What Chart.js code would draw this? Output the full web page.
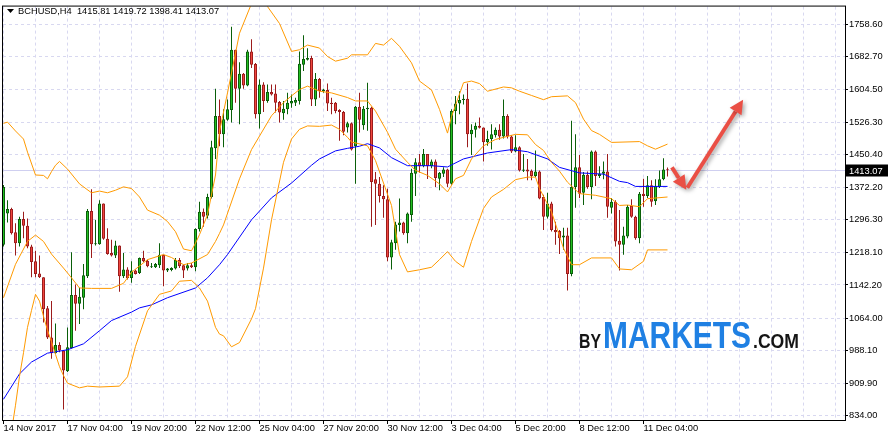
<!DOCTYPE html>
<html>
<head>
<meta charset="utf-8">
<script src="https://cdn.jsdelivr.net/npm/chart.js@4.4.1/dist/chart.umd.min.js"></script>
<style>
  html, body { margin: 0; padding: 0; background: #fff; }
  canvas { display: block; }
</style>
</head>
<body>
<canvas id="chart-bch" width="888" height="440"></canvas>
<script>
// BCHUSD H4 : candles + bandes de Bollinger + moyenne mobile

const symbol = "BCHUSD,H4";

// labels of the time axis (one every 16 candles)
const xLabels = ["14 Nov 2017", "17 Nov 04:00", "19 Nov 20:00", "22 Nov 12:00", "25 Nov 04:00",
  "27 Nov 20:00", "30 Nov 12:00", "3 Dec 04:00", "5 Dec 20:00", "8 Dec 12:00", "11 Dec 04:00"];

// price axis
const yTicks = [1758.60, 1682.70, 1604.50, 1526.30, 1450.40, 1372.20, 1296.30,
  1218.10, 1142.20, 1064.00, 988.10, 909.90, 834.00];

const opens = [
  1237.0, 1311.1, 1321.4, 1266.6, 1240.8, 1298.0, 1282.3, 1233.1, 1197.9, 1169.1,
  1160.4, 1087.1, 1018.2, 980.7, 1000.4, 987.0, 938.5, 993.4, 1118.3, 1097.9,
  1111.9, 1162.8, 1316.7, 1238.5, 1238.5, 1334.5, 1251.1, 1217.4, 1212.0, 1235.4,
  1162.8, 1178.5, 1158.8, 1176.1, 1170.5, 1205.7, 1199.6, 1183.9, 1183.9, 1188.5,
  1213.6, 1176.1, 1177.5, 1180.8, 1201.0, 1188.5, 1180.8, 1188.5, 1183.9, 1274.5,
  1315.1, 1305.7, 1350.2, 1465.0, 1541.6, 1498.5, 1532.3, 1555.7, 1697.7, 1605.6,
  1641.4, 1613.3, 1693.9, 1664.2, 1545.4, 1615.7, 1576.8, 1597.9, 1594.6, 1574.4,
  1547.7, 1557.1, 1571.2, 1572.8, 1576.8, 1662.5, 1674.3, 1678.2, 1580.5, 1629.0,
  1600.2, 1602.6, 1572.8, 1572.8, 1555.7, 1551.0, 1514.2, 1524.3, 1469.7, 1563.4,
  1519.6, 1557.1, 1561.1, 1391.7, 1381.4, 1352.6, 1344.8, 1207.3, 1240.8, 1283.9,
  1290.0, 1264.2, 1307.3, 1404.8, 1432.2, 1422.8, 1451.7, 1422.8, 1433.9, 1393.1,
  1404.8, 1415.1, 1381.4, 1553.4, 1571.2, 1579.1, 1582.2, 1498.5, 1508.8, 1518.2,
  1514.2, 1479.1, 1486.8, 1496.2, 1508.8, 1493.1, 1541.6, 1493.1, 1457.3, 1467.4,
  1411.8, 1415.1, 1411.8, 1399.4, 1410.4, 1350.2, 1303.4, 1334.5, 1272.2, 1269.8,
  1254.1, 1258.8, 1168.2, 1373.6, 1420.5, 1360.3, 1402.5, 1373.6, 1457.3, 1399.4,
  1404.8, 1410.4, 1324.4, 1338.5, 1246.4, 1237.0, 1256.5, 1329.1, 1303.4, 1252.5,
  1357.9, 1352.6, 1377.6, 1340.1, 1373.6, 1391.7, 1415.81
];
const highs = [
  1378.3, 1342.5, 1324.4, 1287.7, 1303.4, 1315.1, 1299.4, 1237.0, 1223.0, 1212.0,
  1160.4, 1092.5, 1104.2, 1051.0, 1006.5, 988.7, 1041.6, 1219.7, 1143.3, 1135.4,
  1191.6, 1321.4, 1368.3, 1295.6, 1342.5, 1334.5, 1275.9, 1248.8, 1246.4, 1235.4,
  1217.4, 1183.9, 1197.9, 1178.5, 1207.3, 1223.0, 1201.9, 1193.9, 1193.9, 1240.8,
  1213.6, 1182.2, 1183.9, 1205.7, 1205.7, 1190.2, 1193.9, 1193.9, 1275.9, 1338.5,
  1322.8, 1357.9, 1483.1, 1605.6, 1580.5, 1557.1, 1580.5, 1752.5, 1697.7, 1668.2,
  1643.1, 1697.7, 1722.8, 1666.5, 1627.4, 1621.3, 1615.7, 1615.7, 1615.7, 1576.8,
  1576.8, 1596.2, 1592.2, 1584.5, 1693.9, 1732.1, 1701.7, 1683.6, 1643.1, 1631.4,
  1605.6, 1618.0, 1584.5, 1574.4, 1557.1, 1553.4, 1527.6, 1525.9, 1565.1, 1596.2,
  1565.1, 1619.7, 1563.4, 1408.8, 1397.1, 1377.6, 1369.7, 1248.8, 1291.6, 1346.2,
  1291.6, 1313.4, 1416.5, 1441.6, 1451.7, 1463.4, 1451.7, 1438.5, 1438.5, 1408.8,
  1420.5, 1416.5, 1557.1, 1588.5, 1600.2, 1592.2, 1618.0, 1522.0, 1525.9, 1537.7,
  1514.2, 1506.5, 1522.0, 1514.2, 1522.0, 1580.5, 1545.4, 1496.2, 1496.2, 1469.7,
  1451.7, 1440.0, 1415.1, 1459.6, 1412.8, 1355.6, 1360.3, 1338.5, 1291.6, 1272.2,
  1277.6, 1277.6, 1529.9, 1498.5, 1449.3, 1408.8, 1410.4, 1459.6, 1459.6, 1422.8,
  1433.9, 1451.7, 1347.9, 1342.5, 1319.1, 1279.9, 1330.8, 1344.8, 1305.7, 1361.9,
  1393.1, 1399.4, 1389.3, 1391.7, 1412.8, 1441.6, 1419.72
];
const lows = [
  1233.1, 1290.0, 1261.2, 1212.0, 1233.1, 1252.5, 1229.1, 1160.4, 1160.4, 1158.8,
  1053.4, 1014.5, 967.6, 979.3, 983.1, 848.1, 936.2, 991.7, 1033.9, 1049.6,
  1084.8, 1158.8, 1205.7, 1235.4, 1237.0, 1248.8, 1213.6, 1209.6, 1205.7, 1126.0,
  1158.8, 1155.0, 1147.1, 1166.7, 1168.2, 1196.3, 1183.9, 1182.2, 1182.2, 1182.2,
  1139.3, 1172.8, 1174.5, 1178.5, 1182.2, 1158.8, 1176.1, 1182.2, 1174.5, 1268.2,
  1279.9, 1299.4, 1346.2, 1440.0, 1469.7, 1467.4, 1529.9, 1525.9, 1572.8, 1522.0,
  1605.6, 1611.9, 1654.8, 1535.3, 1511.9, 1551.0, 1572.8, 1589.9, 1549.4, 1525.9,
  1532.3, 1545.4, 1561.1, 1565.1, 1568.8, 1647.8, 1672.8, 1565.1, 1565.1, 1584.5,
  1596.2, 1553.4, 1545.4, 1547.7, 1483.1, 1496.2, 1502.5, 1459.6, 1381.4, 1502.5,
  1508.8, 1506.5, 1279.9, 1283.9, 1336.9, 1301.0, 1197.9, 1178.5, 1225.3, 1268.2,
  1260.5, 1240.8, 1291.6, 1352.6, 1407.1, 1420.5, 1392.4, 1418.2, 1373.6, 1365.9,
  1397.1, 1373.6, 1379.0, 1522.0, 1545.4, 1568.8, 1467.4, 1449.3, 1490.8, 1511.9,
  1433.9, 1471.3, 1462.0, 1490.8, 1485.4, 1488.5, 1488.5, 1454.0, 1455.6, 1410.4,
  1408.8, 1389.3, 1389.3, 1397.1, 1344.8, 1272.2, 1299.4, 1268.2, 1237.0, 1215.0,
  1225.3, 1129.3, 1162.8, 1324.4, 1347.9, 1330.8, 1369.7, 1344.8, 1376.0, 1394.7,
  1391.7, 1301.0, 1311.1, 1233.1, 1176.1, 1213.6, 1252.5, 1301.0, 1248.8, 1240.8,
  1326.8, 1347.9, 1326.8, 1330.8, 1371.3, 1389.3, 1398.41
];
const closes = [
  1373.6, 1321.4, 1264.2, 1240.8, 1298.0, 1282.3, 1233.1, 1196.3, 1168.2, 1160.4,
  1084.8, 1018.2, 980.7, 1000.4, 987.0, 940.2, 994.8, 1118.3, 1097.9, 1114.3,
  1165.1, 1316.7, 1238.5, 1240.8, 1334.5, 1251.1, 1215.0, 1212.0, 1235.4, 1162.8,
  1178.5, 1158.8, 1176.1, 1168.2, 1205.7, 1197.9, 1186.2, 1186.2, 1191.6, 1213.6,
  1176.1, 1180.8, 1182.2, 1201.0, 1186.2, 1176.1, 1188.5, 1183.9, 1274.5, 1315.1,
  1303.4, 1350.2, 1467.4, 1541.6, 1498.5, 1533.7, 1557.1, 1697.7, 1605.6, 1641.4,
  1613.3, 1693.9, 1662.5, 1545.4, 1615.7, 1576.8, 1597.9, 1592.2, 1572.8, 1549.4,
  1558.7, 1572.8, 1576.8, 1579.1, 1664.9, 1675.9, 1678.2, 1580.5, 1629.0, 1600.2,
  1604.0, 1571.2, 1569.8, 1553.4, 1551.0, 1504.2, 1524.3, 1462.0, 1563.4, 1532.3,
  1558.7, 1561.1, 1385.4, 1381.4, 1352.6, 1344.8, 1207.3, 1243.1, 1285.3, 1290.0,
  1264.2, 1311.1, 1407.1, 1432.2, 1422.8, 1451.7, 1422.8, 1433.9, 1394.7, 1407.1,
  1415.1, 1381.4, 1553.4, 1571.2, 1579.1, 1582.2, 1498.5, 1508.8, 1518.2, 1513.5,
  1479.1, 1486.8, 1498.5, 1508.8, 1493.1, 1541.6, 1493.1, 1457.3, 1467.4, 1412.8,
  1415.1, 1410.4, 1399.4, 1410.4, 1346.2, 1303.4, 1334.5, 1272.2, 1266.6, 1252.5,
  1258.8, 1168.2, 1373.6, 1420.5, 1357.9, 1402.5, 1373.6, 1457.3, 1399.4, 1404.8,
  1410.4, 1326.8, 1338.5, 1244.8, 1237.0, 1258.8, 1326.8, 1303.4, 1252.5, 1357.9,
  1352.6, 1377.6, 1338.5, 1376.0, 1391.7, 1415.1, 1413.07
];

// indicator lines, [candle index, price]
const upperBand = [[0,1524],[1,1527],[3,1506],[5,1487],[6,1456],[8,1402],[10,1401],[11,1393],[12,1410],[13,1425],
  [14,1434],[16,1416],[19,1381],[22,1360],[24,1364],[26,1360],[28,1366],[30,1374],[32,1370],[34,1350],
  [36,1319],[39,1307],[41,1292],[43,1268],[45,1227],[47,1223],[48,1241],[49,1261],[51,1308],[53,1402],
  [54,1505],[56,1596],[59,1737],[62,1807],[64,1830],[66,1800],[69,1760],[72,1694],[74,1698],[76,1709],
  [79,1702],[81,1682],[83,1671],[86,1678],[87,1686],[91,1686],[93,1713],[95,1709],[97,1725],[99,1706],
  [102,1667],[104,1624],[107,1603],[109,1557],[111,1501],[112,1540],[115,1620],[117,1624],[119,1618],[121,1600],
  [125,1610],[127,1608],[129,1600],[132,1590],[135,1580],[137,1587],[141,1589],[143,1573],[145,1534],[147,1507],
  [149,1498],[152,1479],[159,1481],[161,1471],[163,1463],[166,1475]];
const middleBand = [[0,1112],[3,1191],[6,1245],[8,1260],[10,1245],[12,1215],[15,1182],[17,1159],[19,1135],[22,1134],
  [27,1134],[30,1146],[32,1172],[36,1202],[40,1214],[42,1207],[45,1190],[47,1194],[51,1214],[53,1245],
  [54,1264],[55,1284],[59,1393],[62,1462],[67,1542],[70,1573],[72,1589],[74,1604],[76,1612],[79,1600],
  [82,1596],[86,1585],[88,1577],[91,1577],[93,1553],[96,1503],[98,1463],[101,1432],[103,1413],[106,1401],
  [109,1381],[111,1362],[113,1393],[115,1401],[117,1440],[120,1471],[123,1486],[125,1491],[128,1498],[131,1497],
  [133,1474],[135,1460],[137,1432],[139,1411],[141,1385],[144,1358],[148,1354],[152,1346],[154,1330],[156,1331],
  [159,1327],[161,1346],[166,1350]];
const lowerBand = [[0,690],[2,796],[3,858],[4,926],[5,982],[6,1042],[7,1082],[8,1120],[9,1104],[10,1068],
  [11,1035],[12,1008],[13,978],[14,949],[15,928],[16,910],[19,899],[21,903],[24,901],[29,903],
  [31,925],[33,997],[36,1081],[39,1120],[42,1128],[44,1151],[47,1153],[49,1135],[51,1104],[53,1042],
  [54,1026],[55,1022],[57,996],[59,1006],[62,1062],[63,1086],[65,1182],[67,1296],[70,1432],[72,1487],
  [74,1510],[76,1518],[79,1517],[82,1520],[84,1510],[86,1491],[87,1480],[91,1471],[93,1436],[97,1330],
  [99,1214],[101,1173],[104,1178],[107,1184],[109,1202],[111,1221],[113,1198],[115,1184],[117,1245],[120,1323],
  [122,1350],[125,1368],[128,1391],[131,1397],[133,1397],[134,1370],[137,1315],[140,1229],[142,1190],[144,1190],
  [147,1206],[152,1206],[154,1180],[157,1178],[160,1198],[161,1225],[166,1225]];
const maLine = [[0,872],[4,932],[7,960],[11,981],[16,989],[20,1003],[24,1034],[27,1058],[32,1078],[34,1088],
  [37,1095],[41,1112],[48,1135],[51,1159],[54,1190],[56,1214],[62,1296],[67,1348],[72,1383],[77,1425],
  [79,1440],[83,1459],[86,1465],[89,1470],[91,1476],[94,1466],[97,1443],[101,1424],[107,1424],[111,1421],
  [115,1440],[121,1454],[127,1462],[131,1457],[136,1440],[139,1420],[144,1407],[150,1404],[154,1387],[156,1384],
  [158,1375],[166,1375]];

// the two red arrows drawn by hand on the chart (candle index, price)
const arrowPts = [[167.1, 1420], [170.7, 1367], [184.9, 1580]];

const bullFill = "#22c022", bullEdge = "#0a5f0a";
const bearFill = "#f0463f", bearEdge = "#9c1c1c";
const orange = "#ff9a00";
const gridColor = "#d8d8f0";

const idx = opens.map((_, i) => i);
const isBull = idx.map(i => closes[i] >= opens[i]);
const toPts = arr => arr.map(p => ({ x: p[0], y: p[1] }));

function fitText(ctx, text, x, y, w) {
  const m = ctx.measureText(text).width;
  ctx.save();
  ctx.translate(x, y);
  ctx.scale(w / m, 1);
  ctx.fillText(text, 0, 0);
  ctx.restore();
}

function drawArrow(ctx, x0, y0, x1, y1) {
  const ang = Math.atan2(y1 - y0, x1 - x0);
  const head = 14, half = 7;
  const bx = x1 - head * Math.cos(ang);
  const by = y1 - head * Math.sin(ang);
  ctx.beginPath();
  ctx.moveTo(x0, y0);
  ctx.lineTo(bx, by);
  ctx.stroke();
  ctx.beginPath();
  ctx.moveTo(x1, y1);
  ctx.lineTo(bx + half * Math.sin(ang), by - half * Math.cos(ang));
  ctx.lineTo(bx - half * Math.sin(ang), by + half * Math.cos(ang));
  ctx.closePath();
  ctx.fill();
}

const decor = {
  id: "decor",
  beforeDatasetsDraw(chart) {
    const { ctx, chartArea: a, scales: { y } } = chart;
    const last = closes[closes.length - 1];
    const py = Math.round(y.getPixelForValue(last)) + 0.5;
    ctx.save();
    // current price line
    ctx.strokeStyle = "#cfcff0";
    ctx.lineWidth = 1;
    ctx.beginPath();
    ctx.moveTo(a.left, py);
    ctx.lineTo(a.right, py);
    ctx.stroke();

    // watermark
    ctx.filter = "blur(0.6px)";
    ctx.textBaseline = "alphabetic";
    ctx.fillStyle = "#151515";
    ctx.font = 'bold 20px "Liberation Sans"';
    fitText(ctx, "BY", 579, 348, 22);
    ctx.fillStyle = "#1f80e3";
    ctx.font = 'bold 37px "Liberation Sans"';
    fitText(ctx, "MARKETS", 603, 348, 148);
    ctx.fillStyle = "#151515";
    ctx.font = 'bold 20px "Liberation Sans"';
    fitText(ctx, ".COM", 753, 348, 46);
    ctx.restore();
  },
  afterDraw(chart) {
    const { ctx, chartArea: a, scales: { x, y } } = chart;
    ctx.save();

    // frame
    ctx.strokeStyle = "#000";
    ctx.lineWidth = 1;
    ctx.strokeRect(a.left - 0.5, a.top - 0.5, a.right - a.left + 1, a.bottom - a.top + 1);

    // header
    const n = opens.length - 1;
    ctx.fillStyle = "#000";
    ctx.beginPath();
    ctx.moveTo(7, 9);
    ctx.lineTo(14, 9);
    ctx.lineTo(10.5, 13);
    ctx.closePath();
    ctx.fill();
    ctx.font = '9.3px "Liberation Sans"';
    ctx.textBaseline = "middle";
    const ohlc = [opens[n], highs[n], lows[n], closes[n]].map(v => v.toFixed(2)).join(" ");
    ctx.fillText(symbol + "  " + ohlc, 18, 11);

    // last price box on the axis
    const py = Math.round(y.getPixelForValue(closes[n])) + 0.5;
    ctx.fillRect(a.right + 1, py - 6, chart.width - a.right - 1, 12);
    ctx.fillStyle = "#fff";
    ctx.fillText(closes[n].toFixed(2), a.right + 4, py + 0.5);

    // red arrows
    ctx.strokeStyle = "#ea4f45";
    ctx.fillStyle = "#ea4f45";
    ctx.lineWidth = 4;
    ctx.lineCap = "butt";
    ctx.shadowColor = "rgba(0,0,0,0.35)";
    ctx.shadowBlur = 4;
    ctx.shadowOffsetX = 2;
    ctx.shadowOffsetY = 2;
    const P = arrowPts.map(p => [x.getPixelForValue(p[0]), y.getPixelForValue(p[1])]);
    drawArrow(ctx, P[0][0], P[0][1], P[1][0], P[1][1]);
    drawArrow(ctx, P[1][0] + 1, P[1][1] - 2, P[2][0], P[2][1]);
    ctx.restore();
  }
};

const ctx = document.getElementById("chart-bch").getContext("2d");

Chart.defaults.font.family = '"Liberation Sans", Arial, sans-serif';
Chart.defaults.font.size = 9.3;
Chart.defaults.color = "#000";

new Chart(ctx, {
  type: "bar",
  data: {
    datasets: [
      { type: "line", label: "Upper", data: toPts(upperBand), borderColor: orange, borderWidth: 1, pointRadius: 0, tension: 0, order: 0 },
      { type: "line", label: "Middle", data: toPts(middleBand), borderColor: orange, borderWidth: 1, pointRadius: 0, tension: 0, order: 0 },
      { type: "line", label: "Lower", data: toPts(lowerBand), borderColor: orange, borderWidth: 1, pointRadius: 0, tension: 0, order: 0 },
      { type: "line", label: "MA", data: toPts(maLine), borderColor: "#0000ff", borderWidth: 1, pointRadius: 0, tension: 0, order: 0 },
      {
        label: "Body",
        data: idx.map(i => ({ x: i, y: [opens[i], closes[i]] })),
        backgroundColor: isBull.map(b => b ? bullFill : bearFill),
        borderColor: isBull.map(b => b ? bullEdge : bearEdge),
        borderWidth: 1,
        borderSkipped: false,
        barThickness: 3,
        minBarLength: 1,
        inflateAmount: 0,
        grouped: false,
        order: 1
      },
      {
        label: "Wick",
        data: idx.map(i => ({ x: i, y: [lows[i], highs[i]] })),
        backgroundColor: isBull.map(b => b ? bullEdge : bearEdge),
        borderWidth: 0,
        barThickness: 1,
        inflateAmount: 0,
        grouped: false,
        order: 2
      }
    ]
  },
  options: {
    responsive: false,
    animation: false,
    devicePixelRatio: 1,
    events: [],
    layout: { autoPadding: false, padding: { left: 3, top: 3, right: 0, bottom: 0 } },
    plugins: {
      legend: { display: false },
      tooltip: { enabled: false }
    },
    scales: {
      x: {
        type: "linear",
        min: -0.125,
        max: 210.375,
        offset: false,
        afterFit: scale => { scale.height = 20; },
        afterBuildTicks: scale => {
          const t = [];
          for (let v = 0; v <= 208; v += 8) t.push({ value: v });
          scale.ticks = t;
        },
        grid: {
          offset: false,
          color: gridColor,
          tickLength: 4,
          tickColor: c => (c.tick && c.tick.value % 16 === 0 && c.tick.value <= 160) ? "#000" : "rgba(0,0,0,0)",
          tickBorderDash: []
        },
        border: { display: false, dash: [3, 3] },
        ticks: {
          autoSkip: false,
          maxRotation: 0,
          minRotation: 0,
          align: "start",
          padding: -1,
          callback: v => (v % 16 === 0 && xLabels[v / 16]) || ""
        }
      },
      y: {
        position: "right",
        min: 823,
        max: 1800,
        beginAtZero: false,
        afterFit: scale => { scale.width = 43; },
        afterBuildTicks: scale => { scale.ticks = yTicks.map(v => ({ value: v })); },
        grid: {
          color: gridColor,
          tickLength: 3,
          tickColor: "#000",
          tickBorderDash: []
        },
        border: { display: false, dash: [3, 3] },
        ticks: {
          padding: 1,
          callback: v => v.toFixed(2)
        }
      }
    }
  },
  plugins: [decor]
});
</script>
</body>
</html>
